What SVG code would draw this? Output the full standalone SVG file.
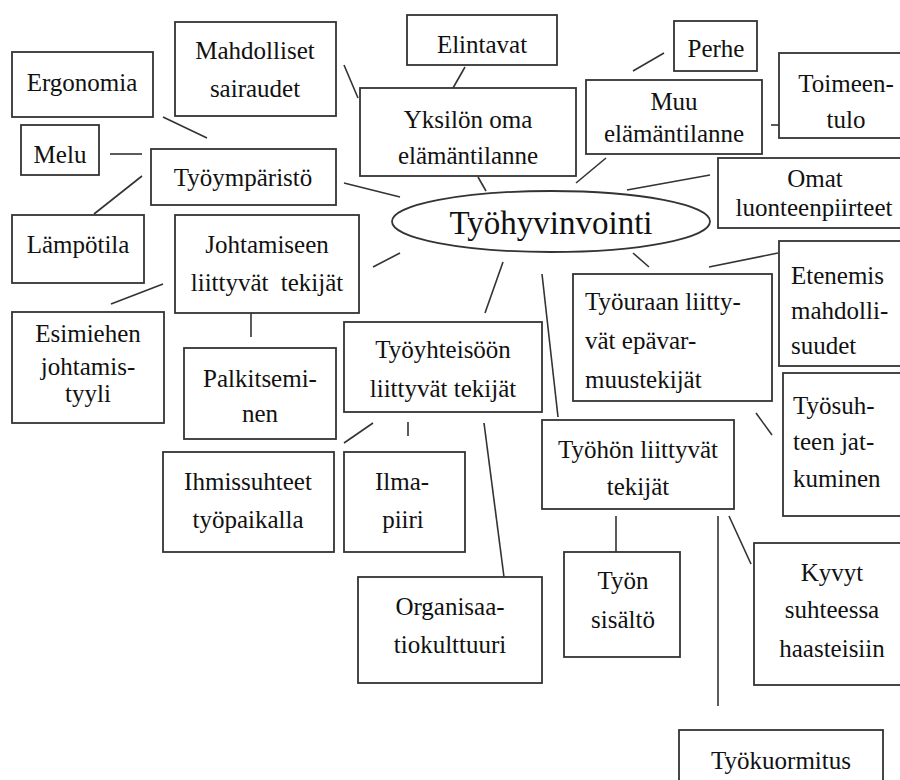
<svg xmlns="http://www.w3.org/2000/svg" width="900" height="780" viewBox="0 0 900 780">
<style>
rect,ellipse{fill:#fff;stroke:#333;stroke-width:1.8}
line{stroke:#333;stroke-width:1.6}
text{font-family:"Liberation Serif",Tinos,"Times New Roman",Times,"Noto Serif","DejaVu Serif",FreeSerif,serif;font-size:25px;fill:#111;text-anchor:middle}
text.l{text-anchor:start}
text.big{font-size:33px}
</style>
<rect x="0" y="0" width="900" height="780" style="fill:#fff;stroke:none"/>
<g id="connectors">
<line x1="163" y1="117" x2="207" y2="138"/>
<line x1="110" y1="154" x2="142" y2="154"/>
<line x1="142" y1="176" x2="94" y2="214"/>
<line x1="344" y1="65" x2="358" y2="98"/>
<line x1="465" y1="67" x2="453" y2="88"/>
<line x1="478" y1="177" x2="486" y2="191"/>
<line x1="633" y1="71" x2="664" y2="53"/>
<line x1="771" y1="125" x2="779" y2="125"/>
<line x1="606" y1="158" x2="576" y2="183"/>
<line x1="627" y1="190" x2="710" y2="175"/>
<line x1="344" y1="183" x2="400" y2="197"/>
<line x1="373" y1="267" x2="400" y2="253"/>
<line x1="111" y1="304" x2="163" y2="284"/>
<line x1="251" y1="313" x2="251" y2="337"/>
<line x1="503" y1="262" x2="485" y2="313"/>
<line x1="542" y1="274" x2="558" y2="417"/>
<line x1="633" y1="253" x2="649" y2="267"/>
<line x1="709" y1="267" x2="778" y2="253"/>
<line x1="756" y1="413" x2="772" y2="435"/>
<line x1="616" y1="516" x2="616" y2="552"/>
<line x1="718" y1="516" x2="718" y2="706"/>
<line x1="729" y1="516" x2="751" y2="564"/>
<line x1="484" y1="423" x2="504" y2="577"/>
<line x1="344" y1="443" x2="373" y2="423"/>
<line x1="408" y1="422" x2="408" y2="436"/>
</g>
<g id="n-mahdolliset"><rect x="175" y="22" width="161" height="94"/><text x="255" y="59">Mahdolliset</text><text x="255" y="97">sairaudet</text></g>
<g id="n-ergonomia"><rect x="12" y="52" width="141" height="65"/><text x="82" y="91">Ergonomia</text></g>
<g id="n-melu"><rect x="21" y="125" width="78" height="50"/><text x="60" y="163">Melu</text></g>
<g id="n-tyoymparisto"><rect x="151" y="149" width="185" height="56"/><text x="243" y="186">Työympäristö</text></g>
<g id="n-elintavat"><rect x="407" y="15" width="150" height="50"/><text x="482" y="53">Elintavat</text></g>
<g id="n-yksilon"><rect x="360" y="88" width="216" height="88"/><text x="468" y="128">Yksilön oma</text><text x="468" y="164">elämäntilanne</text></g>
<g id="n-perhe"><rect x="674" y="21" width="83" height="50"/><text x="716" y="57">Perhe</text></g>
<g id="n-muu"><rect x="586" y="80" width="176" height="74"/><text x="674" y="110">Muu</text><text x="674" y="142">elämäntilanne</text></g>
<g id="n-toimeentulo"><rect x="779" y="53" width="130" height="85"/><text x="846" y="92">Toimeen-</text><text x="846" y="128">tulo</text></g>
<g id="n-omat"><rect x="718" y="158" width="190" height="70"/><text x="815" y="187">Omat</text><text x="814" y="216">luonteenpiirteet</text></g>
<g id="n-tyohyvinvointi"><ellipse cx="551" cy="221.5" rx="159" ry="30.5"/><text class="big" x="551" y="234">Työhyvinvointi</text></g>
<g id="n-lampotila"><rect x="12" y="215" width="132" height="68"/><text x="78" y="253">Lämpötila</text></g>
<g id="n-johtamiseen"><rect x="175" y="215" width="184" height="98"/><text x="267" y="253">Johtamiseen</text><text x="267" y="291" word-spacing="6">liittyvät tekijät</text></g>
<g id="n-esimiehen"><rect x="12" y="312" width="152" height="111"/><text x="88" y="342">Esimiehen</text><text x="88" y="375">johtamis-</text><text x="88" y="402">tyyli</text></g>
<g id="n-palkitseminen"><rect x="184" y="348" width="152" height="91"/><text x="260" y="387">Palkitsemi-</text><text x="260" y="422">nen</text></g>
<g id="n-tyoyhteisoon"><rect x="344" y="322" width="198" height="90"/><text x="443" y="358">Työyhteisöön</text><text x="443" y="397">liittyvät tekijät</text></g>
<g id="n-tyouraan"><rect x="573" y="274" width="199" height="127"/><text class="l" x="585" y="310">Työuraan liitty-</text><text class="l" x="585" y="349">vät epävar-</text><text class="l" x="585" y="388">muustekijät</text></g>
<g id="n-etenemis"><rect x="779" y="241" width="130" height="125"/><text class="l" x="791" y="284">Etenemis</text><text class="l" x="791" y="319">mahdolli-</text><text class="l" x="791" y="354">suudet</text></g>
<g id="n-tyosuhteen"><rect x="783" y="373" width="130" height="143"/><text class="l" x="793" y="414">Työsuh-</text><text class="l" x="793" y="450">teen jat-</text><text class="l" x="793" y="487">kuminen</text></g>
<g id="n-tyohon"><rect x="542" y="420" width="192" height="89"/><text x="638" y="458">Työhön liittyvät</text><text x="638" y="495">tekijät</text></g>
<g id="n-tyon-sisalto"><rect x="564" y="552" width="116" height="105"/><text x="623" y="589">Työn</text><text x="623" y="628">sisältö</text></g>
<g id="n-kyvyt"><rect x="754" y="543" width="155" height="142"/><text x="832" y="581">Kyvyt</text><text x="832" y="618">suhteessa</text><text x="832" y="657">haasteisiin</text></g>
<g id="n-organisaatio"><rect x="358" y="577" width="184" height="106"/><text x="450" y="615">Organisaa-</text><text x="450" y="653">tiokulttuuri</text></g>
<g id="n-ihmissuhteet"><rect x="163" y="452" width="171" height="100"/><text x="248" y="490">Ihmissuhteet</text><text x="248" y="528">työpaikalla</text></g>
<g id="n-ilmapiiri"><rect x="344" y="452" width="121" height="100"/><text x="402" y="490">Ilma-</text><text x="403" y="528">piiri</text></g>
<g id="n-tyokuormitus"><rect x="679" y="730" width="204" height="60"/><text x="781" y="769">Työkuormitus</text></g>
</svg>
